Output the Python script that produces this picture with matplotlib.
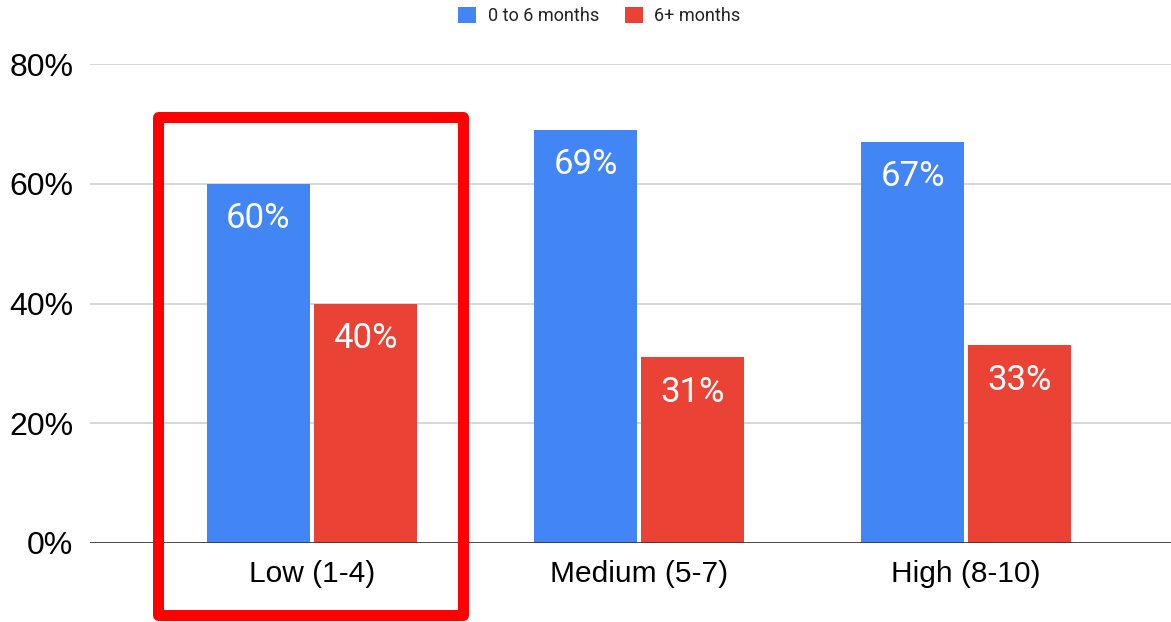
import numpy as np
import matplotlib
matplotlib.use('Agg')
import matplotlib.pyplot as plt
from matplotlib.patches import Rectangle, Patch

# categorias y porcentajes
categorias = ['Low (1-4)', 'Medium (5-7)', 'High (8-10)']
serie_corta = [60, 69, 67]   # 0 to 6 months
serie_larga = [40, 31, 33]   # 6+ months
nombres = ['0 to 6 months', '6+ months']
ticks_y = [0, 20, 40, 60, 80]

azul = '#4285F4'
rojo = '#EA4335'

fig = plt.figure(figsize=(11.71, 6.22), dpi=100)
ax = fig.add_axes([90/1171, 79/622, 1081/1171, 479/622])

x = np.arange(len(categorias))
ancho = 0.315
desp = 0.163

b1 = ax.bar(x - desp, serie_corta, ancho, color=azul, zorder=3)
b2 = ax.bar(x + desp, serie_larga, ancho, color=rojo, zorder=3)

# etiquetas de valor dentro de cada barra
for barras, vals in [(b1, serie_corta), (b2, serie_larga)]:
    for r, v in zip(barras, vals):
        ax.annotate('%d%%' % v, (r.get_x() + r.get_width()/2, v),
                    xytext=(0, -32), textcoords='offset points',
                    ha='center', va='baseline', color='white',
                    fontsize=25, family='Roboto', zorder=4)

ax.set_xlim(-0.678, 2.627)
ax.set_ylim(0, 80)
ax.set_yticks(ticks_y)
ax.set_yticklabels(['%d%%' % t for t in ticks_y], family='Liberation Sans', fontsize=23)
ax.set_xticks(x)
ax.set_xticklabels(categorias, family='Liberation Sans', fontsize=21.5)
ax.tick_params(axis='both', length=0, colors='black')
ax.tick_params(axis='y', pad=12)
ax.tick_params(axis='x', pad=12)

# lineas de cuadricula
ax.grid(axis='y', color='#cccccc', linewidth=1.1, zorder=0)
ax.axhline(0, color='#333333', linewidth=1.2, zorder=5)
for s in ax.spines.values():
    s.set_visible(False)

# leyenda arriba
manijas = [Patch(facecolor=azul), Patch(facecolor=rojo)]
fig.legend(manijas, nombres, loc='center', bbox_to_anchor=(0.512, 0.974),
           ncol=2, frameon=False, handlelength=1.0, handleheight=1.0,
           handletextpad=0.65, columnspacing=1.4,
           prop={'family': 'Roboto', 'size': 13}, labelcolor='#222222')

# recuadro rojo resaltando la primera categoria
fig.patches.append(Rectangle((157.5/1171, 7.5/622), 305/1171, 497.5/622,
                             transform=fig.transFigure, fill=False,
                             edgecolor='#FF0000', linewidth=7.9,
                             joinstyle='round', zorder=10))

fig.savefig('out.png', dpi=100)
